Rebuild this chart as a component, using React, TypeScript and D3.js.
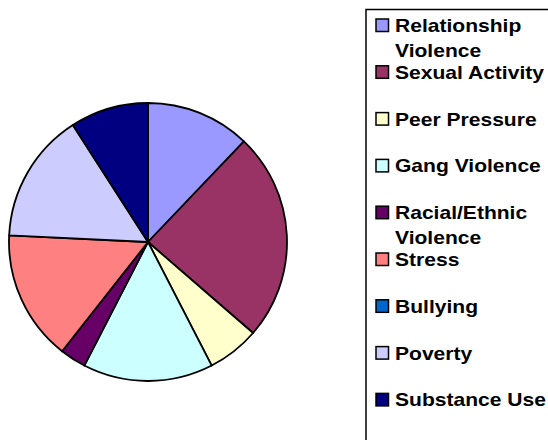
import React from "react";
import * as d3 from "d3";

// Reported concerns (count of responses per category)
const categories = [
  "Relationship Violence",
  "Sexual Activity",
  "Peer Pressure",
  "Gang Violence",
  "Racial/Ethnic Violence",
  "Stress",
  "Bullying",
  "Poverty",
  "Substance Use",
];
const counts = [4, 8, 2, 5, 1, 5, 0, 5, 3];
const colors = [
  "#9999FF",
  "#993366",
  "#FFFFCC",
  "#CCFFFF",
  "#660066",
  "#FF8080",
  "#0066CC",
  "#CCCCFF",
  "#000080",
];
// Legend labels broken into display lines
const legendLines = [
  ["Relationship", "Violence"],
  ["Sexual Activity"],
  ["Peer Pressure"],
  ["Gang Violence"],
  ["Racial/Ethnic", "Violence"],
  ["Stress"],
  ["Bullying"],
  ["Poverty"],
  ["Substance Use"],
];

const W = 548;
const H = 440;

export default function App() {
  const cx = 148;
  const cy = 242;
  const r = 139;

  const pie = d3
    .pie<number>()
    .sort(null)
    .value((d) => d)
    .startAngle(0)
    .endAngle(2 * Math.PI);
  const arcs = pie(counts);
  const arc = d3.arc<d3.PieArcDatum<number>>().innerRadius(0).outerRadius(r);

  const legendX = 366;
  const legendTop = 9.5;
  const firstBaseline = 32;
  const step = 46.8;
  const lineStep = 24.7;
  const font = "'Liberation Sans', Arial, sans-serif";

  return (
    <svg
      width={W}
      height={H}
      style={{ position: "absolute", left: 0, top: 0, background: "#fff" }}
    >
      <g transform={`translate(${cx},${cy})`}>
        {arcs.map((a, i) =>
          a.value > 0 ? (
            <path
              key={categories[i]}
              d={arc(a) || ""}
              fill={colors[i]}
              stroke="#000"
              strokeWidth={1.8}
              strokeLinejoin="round"
            />
          ) : null
        )}
      </g>

      <rect
        x={legendX}
        y={legendTop}
        width={W - legendX + 20}
        height={H}
        fill="#fff"
        stroke="#000"
        strokeWidth={1.5}
      />
      {categories.map((c, i) => {
        const base = firstBaseline + i * step;
        return (
          <g key={c}>
            <rect
              x={376}
              y={base - 13}
              width={12.5}
              height={12.5}
              fill={colors[i]}
              stroke="#000"
              strokeWidth={1.5}
            />
            {legendLines[i].map((ln, j) => (
              <text
                key={j}
                transform={`translate(395,${base + j * lineStep}) scale(1.17,1)`}
                fontFamily={font}
                fontWeight="bold"
                fontSize={18}
                fill="#000"
              >
                {ln}
              </text>
            ))}
          </g>
        );
      })}
    </svg>
  );
}
